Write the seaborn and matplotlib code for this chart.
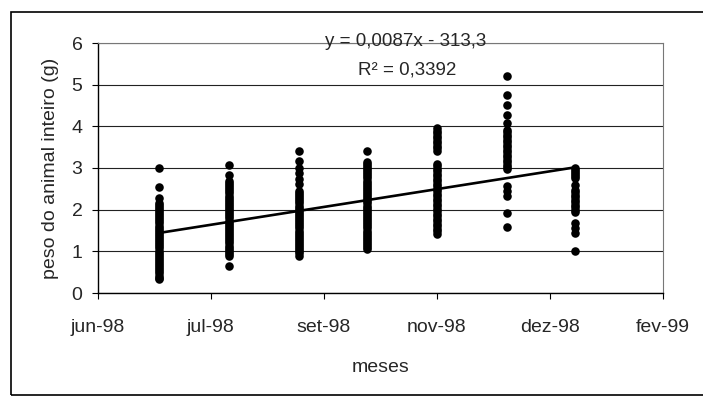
import matplotlib
matplotlib.use("Agg")
import matplotlib.pyplot as plt
import matplotlib.dates as mdates
from matplotlib.patches import Rectangle
import seaborn as sns
import pandas as pd

# datas de coleta e pesos (g)
datas_coleta = ['1998-07-07', '1998-08-07', '1998-09-07', '1998-10-07',
                '1998-11-07', '1998-12-08', '1999-01-07']

peso_jul = [3.00, 2.55, 2.27, 2.17, 2.12, 2.07, 2.02, 1.97, 1.92, 1.87, 1.82, 1.77,
            1.72, 1.67, 1.62, 1.57, 1.52, 1.47, 1.42, 1.37, 1.32, 1.27, 1.22, 1.17,
            1.12, 1.07, 1.02, 0.97, 0.92, 0.87, 0.82, 0.77, 0.72, 0.67, 0.62, 0.57,
            0.52, 0.47, 0.42, 0.37, 0.33]
peso_ago = [3.07, 2.83, 2.69, 2.64, 2.59, 2.54, 2.49, 2.44, 2.39, 2.34, 2.29, 2.24,
            2.19, 2.14, 2.09, 2.04, 1.99, 1.94, 1.89, 1.84, 1.79, 1.74, 1.69, 1.64,
            1.59, 1.54, 1.49, 1.44, 1.39, 1.34, 1.29, 1.24, 1.19, 1.14, 1.09, 1.04,
            0.99, 0.94, 0.89, 0.65]
peso_set = [3.42, 3.17, 3.00, 2.89, 2.73, 2.61, 2.45, 2.40, 2.35, 2.30, 2.25, 2.20,
            2.15, 2.10, 2.05, 2.00, 1.95, 1.90, 1.85, 1.80, 1.75, 1.70, 1.65, 1.60,
            1.55, 1.50, 1.45, 1.40, 1.35, 1.30, 1.25, 1.20, 1.15, 1.10, 1.05, 1.00,
            0.95, 0.88]
peso_out = [3.40, 3.15, 3.10, 3.05, 3.00, 2.95, 2.90, 2.85, 2.80, 2.75, 2.70, 2.65,
            2.60, 2.55, 2.50, 2.45, 2.40, 2.35, 2.30, 2.25, 2.20, 2.15, 2.10, 2.05,
            2.00, 1.95, 1.90, 1.85, 1.80, 1.75, 1.70, 1.65, 1.60, 1.55, 1.50, 1.45,
            1.40, 1.35, 1.30, 1.25, 1.20, 1.15, 1.10, 1.05]
peso_nov = [3.95, 3.89, 3.83, 3.77, 3.71, 3.65, 3.59, 3.53, 3.47, 3.41, 3.10, 3.04,
            2.98, 2.92, 2.86, 2.80, 2.74, 2.68, 2.62, 2.56, 2.50, 2.44, 2.38, 2.32,
            2.26, 2.20, 2.14, 2.08, 2.02, 1.96, 1.90, 1.84, 1.78, 1.72, 1.66, 1.60,
            1.54, 1.48, 1.42]
peso_dez = [5.22, 4.76, 4.52, 4.28, 4.08, 3.92, 3.86, 3.80, 3.74, 3.68, 3.62, 3.56,
            3.50, 3.44, 3.38, 3.32, 3.26, 3.20, 3.14, 3.08, 3.02, 2.97, 2.56, 2.44,
            2.32, 1.92, 1.58]
peso_jan = [3.00, 2.95, 2.90, 2.85, 2.80, 2.75, 2.60, 2.48, 2.42, 2.36, 2.30, 2.24,
            2.18, 2.12, 2.06, 2.00, 1.94, 1.68, 1.56, 1.44, 1.00]

pesos = [peso_jul, peso_ago, peso_set, peso_out, peso_nov, peso_dez, peso_jan]

tick_datas = ['1998-06-10', '1998-07-30', '1998-09-18', '1998-11-07',
              '1998-12-27', '1999-02-15']
tick_labels = ['jun-98', 'jul-98', 'set-98', 'nov-98', 'dez-98', 'fev-99']
y_ticks = [0, 1, 2, 3, 4, 5, 6]

equacao = 'y = 0,0087x - 313,3'
r2_texto = 'R² = 0,3392'

rows = []
for d, lista in zip(datas_coleta, pesos):
    for p in lista:
        rows.append((d, p))
df = pd.DataFrame(rows, columns=['data', 'peso'])
df['dia'] = mdates.date2num(pd.to_datetime(df['data']))

sns.set_style("white")
plt.rcParams['font.family'] = ['Liberation Sans', 'DejaVu Sans']

fig = plt.figure(figsize=(7.03, 4.0), dpi=100)
ax = fig.add_axes([0.139, 0.2675, 0.804, 0.625])

sns.regplot(data=df, x='dia', y='peso', ax=ax, ci=None, truncate=True,
            scatter_kws=dict(s=38, color='black', linewidths=0, alpha=1, zorder=3),
            line_kws=dict(color='black', lw=1.9, zorder=4))

tick_pos = mdates.date2num(pd.to_datetime(tick_datas))
ax.set_xlim(tick_pos[0], tick_pos[-1])
ax.set_xticks(tick_pos)
ax.set_xticklabels(tick_labels)
ax.set_ylim(0, 6)
ax.set_yticks(y_ticks)

ax.yaxis.grid(True, color='#222222', lw=0.8)
ax.xaxis.grid(False)
ax.set_axisbelow(True)

for s in ['left', 'bottom']:
    ax.spines[s].set_color('black')
    ax.spines[s].set_linewidth(1.0)
for s in ['top', 'right']:
    ax.spines[s].set_color('#777777')
    ax.spines[s].set_linewidth(0.8)

ax.tick_params(axis='both', direction='out', length=4, width=0.8, color='black',
               labelsize=14, bottom=True, left=True)
ax.tick_params(axis='x', pad=15)
ax.tick_params(axis='y', pad=7)

ax.set_xlabel('meses', fontsize=14, labelpad=16)
ax.set_ylabel('peso do animal inteiro (g)', fontsize=14, labelpad=9)

ax.text(0.545, 1.004, equacao, transform=ax.transAxes, ha='center', va='center', fontsize=13.5)
ax.text(0.547, 0.892, r2_texto, transform=ax.transAxes, ha='center', va='center', fontsize=13.5)

fig.add_artist(Rectangle((0.016, 0.012), 1.2, 0.958, transform=fig.transFigure,
                         fill=False, edgecolor='black', lw=1.2))

fig.savefig('out.png', dpi=100)
